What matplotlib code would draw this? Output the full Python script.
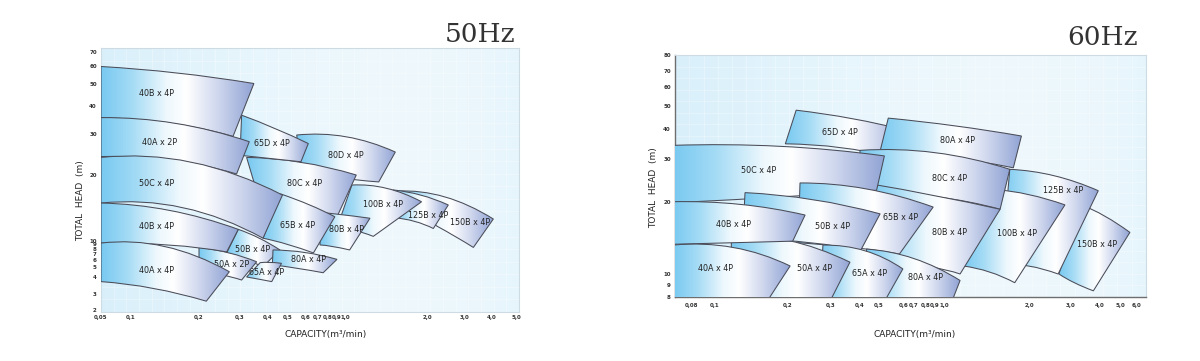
import numpy as np
import matplotlib
matplotlib.use("Agg")
import matplotlib.pyplot as plt
from matplotlib.path import Path
from matplotlib.patches import PathPatch
from matplotlib.colors import LinearSegmentedColormap, to_rgb
from matplotlib.collections import LineCollection

# ======================= data =======================
X50_TICKS = [0.05, 0.1, 0.2, 0.3, 0.4, 0.5, 0.6, 0.7, 0.8, 0.9, 1.0, 2.0, 3.0, 4.0, 5.0]
X50_LABELS = ["0,05", "0,1", "0,2", "0,3", "0,4", "0,5", "0,6", "0,7", "0,8", "0,9",
              "1,0", "2,0", "3,0", "4,0", "5,0"]
Y50_TICKS = [2, 3, 4, 5, 6, 7, 8, 9, 10, 20, 30, 40, 50, 60, 70]

X60_TICKS = [0.08, 0.1, 0.2, 0.3, 0.4, 0.5, 0.6, 0.7, 0.8, 0.9, 1.0, 2.0, 3.0, 4.0, 5.0, 6.0]
X60_LABELS = ["0,08", "0,1", "0,2", "0,3", "0,4", "0,5", "0,6", "0,7", "0,8", "0,9",
              "1,0", "2,0", "3,0", "4,0", "5,0", "6,0"]
Y60_TICKS = [8, 9, 10, 20, 30, 40, 50, 60, 70, 80]

# 50 Hz models (drawing order). Points are (capacity m3/min, head m):
# top edge = (left, middle, right), bottom edge = (left, middle, right)
M50_NAMES = ["150B x 4P", "125B x 4P", "100B x 4P", "80D x 4P", "80C x 4P", "80B x 4P",
             "65B x 4P", "65D x 4P", "40B x 4P", "40A x 2P", "50C x 4P", "50B x 4P",
             "80A x 4P", "65A x 4P", "50A x 2P", "40B x 4P", "40A x 4P"]
M50_TOP = [((1.55, 16.9), (2.42, 15.9), (4.05, 12.6)),
           ((1.5, 17.1), (1.9, 16.2), (2.51, 14.6)),
           ((1.06, 18.0), (1.42, 17.4), (1.91, 15.1)),
           ((0.546, 29.7), (1.01, 29.2), (1.53, 25.1)),
           ((0.321, 23.8), (0.57, 22.7), (1.1, 20.0)),
           ((0.72, 13.5), (0.95, 13.2), (1.235, 12.7)),
           ((0.46, 16.4), (0.63, 14.6), (0.875, 12.9)),
           ((0.305, 36.4), (0.432, 31.8), (0.618, 27.3)),
           ((0.05, 60.0), (0.16, 56.0), (0.346, 50.0)),
           ((0.05, 35.5), (0.157, 33.5), (0.33, 27.8)),
           ((0.05, 23.8), (0.186, 22.7), (0.47, 16.2)),
           ((0.295, 11.3), (0.366, 10.3), (0.457, 7.8)),
           ((0.423, 7.8), (0.594, 7.3), (0.9, 6.1)),
           ((0.369, 5.6), (0.41, 5.65), (0.465, 5.5)),
           ((0.2, 8.3), (0.27, 7.2), (0.356, 5.73)),
           ((0.05, 14.9), (0.148, 13.8), (0.295, 11.3)),
           ((0.05, 9.3), (0.141, 8.5), (0.27, 4.5))]
M50_BOTTOM = [((2.22, 11.7), (2.70, 10.5), (3.28, 8.3)),
              ((1.5, 12.8), (1.8, 12.3), (2.14, 11.4)),
              ((0.9, 11.5), (1.08, 11.2), (1.27, 10.5)),
              ((0.57, 21.0), (0.9, 19.5), (1.33, 18.6)),
              ((0.38, 13.5), (0.6, 13.3), (0.9, 12.9)),
              ((0.719, 8.8), (0.85, 8.5), (1.04, 7.8)),
              ((0.38, 10.3), (0.5, 8.9), (0.66, 7.2)),
              ((0.3, 24.3), (0.42, 23.5), (0.57, 22.8)),
              ((0.05, 35.5), (0.15, 33.5), (0.28, 29.3)),
              ((0.05, 24.0), (0.15, 23.2), (0.29, 20.2)),
              ((0.05, 14.9), (0.17, 14.2), (0.38, 10.3)),
              ((0.263, 7.2), (0.316, 6.1), (0.38, 5.05)),
              ((0.42, 5.3), (0.553, 4.85), (0.75, 4.4)),
              ((0.321, 4.0), (0.366, 3.85), (0.417, 3.7)),
              ((0.2, 4.5), (0.25, 4.2), (0.305, 3.8)),
              ((0.05, 9.3), (0.148, 8.8), (0.263, 7.4)),
              ((0.05, 3.7), (0.126, 3.3), (0.215, 2.5))]
M50_LABEL_AT = [(3.16, 12.2), (2.03, 13.1), (1.38, 14.6), (1.01, 24.2), (0.594, 18.3),
                (1.01, 11.3), (0.553, 11.8), (0.417, 27.3), (0.130, 45.4), (0.134, 27.6),
                (0.130, 18.2), (0.343, 8.0), (0.618, 6.0), (0.394, 4.47), (0.276, 5.28),
                (0.130, 11.6), (0.130, 4.67)]

# 60 Hz models (drawing order)
M60_NAMES = ["65D x 4P", "80A x 4P", "150B x 4P", "125B x 4P", "100B x 4P", "80C x 4P",
             "80B x 4P", "50C x 4P", "65B x 4P", "80A x 4P", "50B x 4P", "65A x 4P",
             "50A x 4P", "40B x 4P", "40A x 4P"]
M60_TOP = [((0.216, 47.9), (0.37, 44.2), (0.62, 39.5)),
           ((0.535, 44.4), (1.1, 41.2), (1.88, 37.4)),
           ((3.3, 19.5), (4.25, 17.4), (5.56, 14.9)),
           ((1.71, 27.2), (2.55, 25.6), (3.95, 22.2)),
           ((1.5, 22.5), (2.0, 21.4), (2.83, 19.4)),
           ((0.4, 32.6), (0.9, 31.9), (1.71, 27.2)),
           ((0.45, 23.7), (0.9, 21.2), (1.58, 18.6)),
           ((0.067, 34.2), (0.185, 33.9), (0.52, 30.9)),
           ((0.224, 23.9), (0.43, 22.6), (0.88, 19.0)),
           ((0.432, 12.7), (0.7, 11.6), (1.14, 9.4)),
           ((0.133, 21.8), (0.254, 20.4), (0.504, 17.8)),
           ((0.278, 13.2), (0.424, 12.5), (0.595, 10.5)),
           ((0.117, 14.2), (0.2, 13.8), (0.362, 11.2)),
           ((0.067, 20.0), (0.127, 19.5), (0.235, 17.6)),
           ((0.067, 13.2), (0.119, 12.9), (0.204, 10.8))]
M60_BOTTOM = [((0.195, 34.7), (0.33, 33.5), (0.55, 30.5)),
              ((0.5, 31.0), (1.0, 30.5), (1.76, 27.6)),
              ((2.67, 10.0), (3.1, 9.2), (3.76, 8.5)),
              ((1.6, 11.0), (2.0, 10.8), (2.65, 10.0)),
              ((1.17, 10.8), (1.45, 10.2), (1.78, 9.2)),
              ((0.4, 22.0), (0.9, 21.0), (1.58, 18.6)),
              ((0.45, 11.5), (0.8, 10.8), (1.14, 10.0)),
              ((0.067, 19.8), (0.2, 21.0), (0.486, 22.3)),
              ((0.22, 13.5), (0.4, 12.8), (0.58, 12.1)),
              ((0.43, 7.3), (0.7, 7.3), (1.05, 7.3)),
              ((0.13, 14.0), (0.25, 13.5), (0.4, 12.4)),
              ((0.27, 7.3), (0.4, 7.3), (0.51, 7.3)),
              ((0.115, 7.3), (0.18, 7.3), (0.29, 7.3)),
              ((0.067, 13.3), (0.12, 13.5), (0.209, 13.7)),
              ((0.067, 7.3), (0.1, 7.3), (0.159, 7.3))]
M60_LABEL_AT = [(0.328, 38.5), (1.12, 35.7), (3.89, 13.3), (2.78, 22.2), (1.81, 14.7),
                (1.05, 25.0), (1.05, 14.9), (0.151, 26.8), (0.585, 17.2), (0.8, 9.7),
                (0.305, 15.7), (0.449, 10.0), (0.258, 10.5), (0.119, 16.1), (0.10, 10.5)]

# ======================= layout =======================
W, H = 1200, 361
# the printed axes are hand-spaced: pixel position of each printed tick
X50_TICK_PX = [101, 131, 199, 240, 268, 288, 306, 318, 328, 337, 345, 427, 465, 492, 516]
Y50_TICK_PX = [310, 294, 277, 267, 260, 254, 249, 244, 241, 175, 134, 106, 83.5, 66.5, 52]
X60_TICK_PX = [691.7, 715, 788, 831, 860, 879, 904, 914, 925.5, 935, 944, 1029, 1071, 1099.5, 1120, 1137]
Y60_TICK_PX = [297, 285, 274, 201.7, 159, 129, 105.7, 87, 70.7, 55]
AX50_BOX = (101, 519, 48, 312)     # left, right, top, bottom (px)
AX60_BOX = (675, 1146, 55, 297)

TILE_CMAP = LinearSegmentedColormap.from_list("tile", [
    (0.00, "#78c9f1"), (0.20, "#a4dbf5"), (0.43, "#eef8fd"), (0.56, "#ffffff"),
    (0.76, "#d0d8ee"), (1.00, "#90a3d4")])


def log_interp_scale(vals, px, flip):
    lv = np.log10(np.asarray(vals, float))
    p = np.asarray(px, float) * (-1.0 if flip else 1.0)
    s0 = (p[1] - p[0]) / (lv[1] - lv[0])
    s1 = (p[-1] - p[-2]) / (lv[-1] - lv[-2])

    def fwd(v):
        v = np.asarray(v, float)
        lg = np.log10(np.clip(v, 1e-12, None))
        out = np.interp(lg, lv, p)
        out = np.where(lg < lv[0], p[0] + (lg - lv[0]) * s0, out)
        out = np.where(lg > lv[-1], p[-1] + (lg - lv[-1]) * s1, out)
        return out

    def inv(q):
        q = np.asarray(q, float)
        lg = np.interp(q, p, lv)
        lg = np.where(q < p[0], lv[0] + (q - p[0]) / s0, lg)
        lg = np.where(q > p[-1], lv[-1] + (q - p[-1]) / s1, lg)
        return 10.0 ** lg

    return fwd, inv


def background(ax):
    x = np.linspace(0, 1, 300)
    strength = 0.30 * (1 - x) ** 1.6 + 0.16 * x ** 4 + 0.10
    c_blue = np.array(to_rgb("#9fd8f3"))
    rgb = (1 - strength[:, None]) * 1.0 + strength[:, None] * c_blue
    img = np.repeat(rgb[None, :, :], 2, axis=0)
    ax.imshow(img, extent=(0, 1, 0, 1), transform=ax.transAxes, aspect="auto",
              interpolation="bilinear", zorder=0)
    segs = [[(v, 0), (v, 1)] for v in np.linspace(0, 1, 34)[1:-1]]
    segs += [[(0, v), (1, v)] for v in np.linspace(0, 1, 22)[1:-1]]
    ax.add_collection(LineCollection(segs, colors="white", linewidths=0.6, alpha=0.35,
                                     transform=ax.transAxes, zorder=0.5))


def panel(fig, box, xt, xl, xpx, yt, ypx, names, tops, bots, labs, dark, xpad):
    l, r, t, b = box
    ax = fig.add_axes([l / W, 1 - b / H, (r - l) / W, (b - t) / H])
    fx, ix = log_interp_scale(xt, xpx, False)
    fy, iy = log_interp_scale(yt, ypx, True)
    ax.set_xscale("function", functions=(fx, ix))
    ax.set_yscale("function", functions=(fy, iy))
    x0, x1 = float(ix(l)), float(ix(r))
    y0, y1 = float(iy(-b)), float(iy(-t))
    ax.set_autoscale_on(False)
    ax.set_xlim(x0, x1)
    ax.set_ylim(y0, y1)
    u0, u1 = float(fx(x0)), float(fx(x1))

    background(ax)
    grad = np.linspace(0, 1, 256).reshape(1, -1)

    def ctrl(a, m, c):
        ua, um, uc = fx([a[0], m[0], c[0]])
        va, vm, vc = fy([a[1], m[1], c[1]])
        return (float(ix(2 * um - (ua + uc) / 2)), float(iy(2 * vm - (va + vc) / 2)))

    for i, (name, top, bot, lab) in enumerate(zip(names, tops, bots, labs)):
        TL, TM, TR = top
        BL, BM, BR = bot
        verts = [TL, ctrl(TL, TM, TR), TR, BR, ctrl(BR, BM, BL), BL, TL]
        codes = [Path.MOVETO, Path.CURVE3, Path.CURVE3, Path.LINETO,
                 Path.CURVE3, Path.CURVE3, Path.CLOSEPOLY]
        z = 3 + 2 * i
        patch = PathPatch(Path(verts, codes), facecolor="none", edgecolor="#4a4c58",
                          linewidth=0.75, zorder=z + 1)
        ax.add_patch(patch)
        us = fx([TL[0], TR[0], BR[0], BL[0]])
        a0 = (min(us) - u0) / (u1 - u0)
        a1 = (max(us) - u0) / (u1 - u0)
        im = ax.imshow(grad, cmap=TILE_CMAP, extent=(a0, a1, 0, 1), transform=ax.transAxes,
                       aspect="auto", interpolation="bilinear", zorder=z)
        im.set_clip_path(patch)
        ax.text(lab[0], lab[1], name, ha="center", va="center", fontsize=5.8,
                color="#222222", zorder=z + 1.5)

    ax.set_xticks(xt)
    ax.set_xticklabels(xl)
    ax.set_yticks(yt)
    ax.set_yticklabels([str(v) for v in yt])
    ax.minorticks_off()
    ax.tick_params(length=0, labelsize=4.0, colors="#333333")
    ax.tick_params(axis="x", pad=xpad)
    ax.tick_params(axis="y", pad=3)
    for lb in ax.get_xticklabels() + ax.get_yticklabels():
        lb.set_fontweight("bold")
    for s in ax.spines.values():
        s.set_color("#cfdbe3")
        s.set_linewidth(0.8)
    if dark:
        for s in ("left", "bottom"):
            ax.spines[s].set_color("#6e6e6e")
            ax.spines[s].set_linewidth(1.0)
    return ax


fig = plt.figure(figsize=(W / 100, H / 100), dpi=100)
fig.patch.set_facecolor("white")

panel(fig, AX50_BOX, X50_TICKS, X50_LABELS, X50_TICK_PX, Y50_TICKS, Y50_TICK_PX,
      M50_NAMES, M50_TOP, M50_BOTTOM, M50_LABEL_AT, False, 2)
panel(fig, AX60_BOX, X60_TICKS, X60_LABELS, X60_TICK_PX, Y60_TICKS, Y60_TICK_PX,
      M60_NAMES, M60_TOP, M60_BOTTOM, M60_LABEL_AT, True, 4)

fig.text(515 / W, 1 - 42 / H, "50Hz", ha="right", va="baseline", family="DejaVu Serif",
         fontsize=19, color="#333333")
fig.text(1138 / W, 1 - 45 / H, "60Hz", ha="right", va="baseline", family="DejaVu Serif",
         fontsize=19, color="#333333")
fig.text(81 / W, 1 - 201 / H, "TOTAL  HEAD  (m)", rotation=90, ha="center", va="center",
         fontsize=6.5, color="#222222")
fig.text(654 / W, 1 - 188 / H, "TOTAL  HEAD  (m)", rotation=90, ha="center", va="center",
         fontsize=6.5, color="#222222")
fig.text(326 / W, 1 - 335 / H, "CAPACITY(m³/min)", ha="center", va="center",
         fontsize=6.5, color="#222222")
fig.text(915 / W, 1 - 335 / H, "CAPACITY(m³/min)", ha="center", va="center",
         fontsize=6.5, color="#222222")

fig.savefig("out.png", dpi=100, facecolor="white")
